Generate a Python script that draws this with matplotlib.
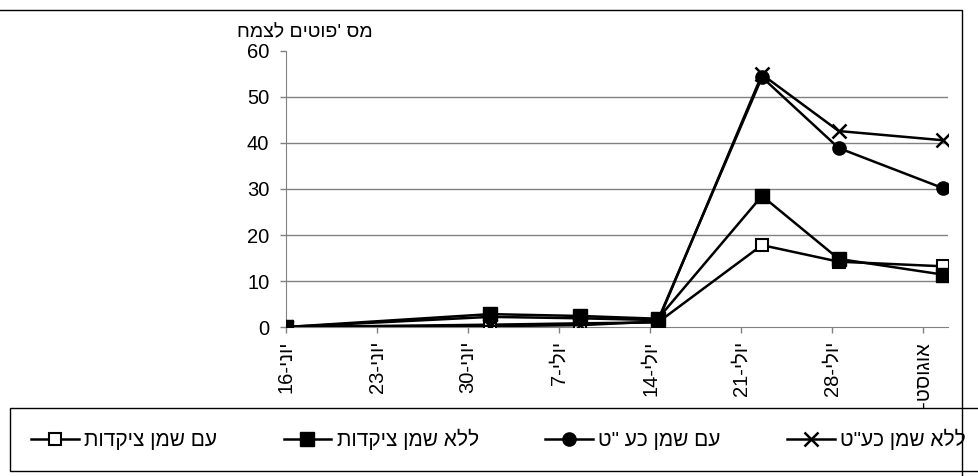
import matplotlib
matplotlib.use('Agg')
import matplotlib.pyplot as plt
from matplotlib.patches import Rectangle

plt.rcParams['font.family'] = ['Liberation Sans', 'DejaVu Sans']

# days counted from 16 June
sample_days = [0, 15.7, 22.6, 28.6, 36.6, 42.5, 50.5]
tick_days = [0, 7, 14, 21, 28, 35, 42, 49]
# matplotlib draws glyphs left to right, so hebrew runs are stored reversed
tick_labels = ['16-ינוי', '23-ינוי', '30-ינוי', '7-ילוי', '14-ילוי',
               '21-ילוי', '28-ילוי', '1-טסוגוא']

with_citrus = [0, 0.5, 0.8, 1.0, 17.8, 14.2, 13.2]
without_citrus = [0, 2.8, 2.4, 1.8, 28.5, 14.8, 11.4]
with_kat = [0, 2.2, 1.9, 1.5, 54.3, 38.9, 30.2]
without_kat = [0, 0.2, 0.4, 1.2, 54.9, 42.6, 40.6]

series_names = ['עם שמן ציקדות', 'ללא שמן ציקדות', 'עם שמן כע "ט', 'ללא שמן כע"ט']
y_label = 'מס \'פוטים לצמח'


def visual(s):
    return s[::-1]


fig = plt.figure(figsize=(9.79, 4.76), dpi=100)
ax = fig.add_axes([0.2921, 0.3130, 0.6762, 0.5799])

ax.plot(sample_days, with_citrus, color='black', lw=1.8, marker='s', ms=8,
        mfc='white', mec='black', mew=1.5, label=visual(series_names[0]), zorder=3)
ax.plot(sample_days, without_citrus, color='black', lw=1.8, marker='s', ms=9.5,
        mfc='black', mec='black', label=visual(series_names[1]), zorder=3)
ax.plot(sample_days, with_kat, color='black', lw=1.8, marker='o', ms=9.5,
        mfc='black', mec='black', label=visual(series_names[2]), zorder=3)
ax.plot(sample_days, without_kat, color='black', lw=1.8, marker='x', ms=10,
        mew=1.8, label=visual(series_names[3]), zorder=3)

ax.set_xlim(0, 50.9)
ax.set_ylim(0, 60)
ax.set_yticks(range(0, 61, 10))
ax.set_xticks(tick_days)
ax.set_xticklabels(tick_labels, rotation=90, va='top', ha='center')
ax.tick_params(axis='both', direction='out', length=4, width=1, labelsize=14.5,
               color='#808080')
ax.tick_params(axis='x', pad=6)
ax.tick_params(axis='y', pad=8)
for ytick in range(10, 60, 10):
    ax.axhline(ytick, color='#808080', lw=1, zorder=1)
ax.spines['top'].set_visible(False)
ax.spines['right'].set_visible(False)
ax.spines['left'].set_color('#808080')
ax.spines['bottom'].set_color('#808080')

fig.text(237 / 979, 1 - 33 / 476, visual(y_label), fontsize=14, va='center', ha='left')

leg = fig.legend(loc='upper left', bbox_to_anchor=(10 / 979, 0, 0.998, 1 - 408 / 476),
                 mode='expand', ncol=4, fontsize=15, frameon=True, fancybox=False,
                 handlelength=2.3, handletextpad=0.25, borderaxespad=0, borderpad=1.0)
leg.get_frame().set_edgecolor('black')
leg.get_frame().set_linewidth(1)
leg.get_frame().set_facecolor('white')
leg.get_frame().set_alpha(1)
leg.set_zorder(5)

# outer chart frame, drawn over the legend like in the original
fig.add_artist(Rectangle((-0.01, -0.01), 962 / 979 + 0.01, 1 - 10 / 476 + 0.01,
                         transform=fig.transFigure, fill=False, ec='black', lw=1,
                         zorder=6))

fig.savefig('out.png', dpi=100)
